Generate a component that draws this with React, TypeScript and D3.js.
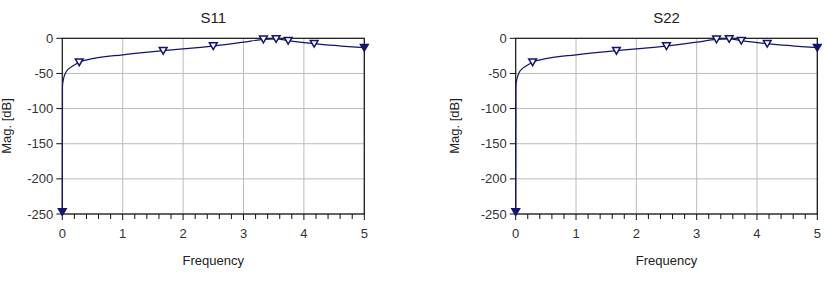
import React from "react";
import * as d3 from "d3";

const titles = ["S11", "S22"];
const freq = [0, 0.003, 0.02, 0.05, 0.1, 0.18, 0.28, 0.5, 1.0, 1.67, 2.1, 2.5, 3.0, 3.33, 3.54, 3.74, 4.17, 5];
const mag = [-247, -68, -58, -50, -44, -39, -34, -29, -23.5, -17.6, -14.3, -11, -5.5, -1.5, -0.8, -3.3, -7.6, -13.3];
const markerIdx = [0, 6, 9, 11, 13, 14, 15, 16, 17];
const xTicks = [0, 1, 2, 3, 4, 5];
const yTicks = [0, -50, -100, -150, -200, -250];
const xLabel = "Frequency";
const yLabel = "Mag. [dB]";

const W = 826, H = 282;
const panels = [{ x0: 62.3, x1: 364.3, yl: 11 }, { x0: 515.7, x1: 817.3, yl: 459 }];
const yTop = 38.3, yBot = 214;
const navy = "#14146e";
const font = "'Liberation Sans', Arial, sans-serif";

function Panel({ idx }: { idx: number }) {
  const p = panels[idx];
  const x = d3.scaleLinear().domain([0, 5]).range([p.x0, p.x1]);
  const y = d3.scaleLinear().domain([-250, 0]).range([yBot, yTop]);
  const line = d3.line<number>().x((_, i) => x(freq[i])).y((d) => y(d)).curve(d3.curveMonotoneX);
  const minor = d3.range(0, 5.0001, 0.2);
  const tri = d3.symbol().type(d3.symbolTriangle).size(26)();
  const cx = (p.x0 + p.x1) / 2;
  return (
    <g>
      <text x={cx} y={23} textAnchor="middle" fontSize={15} fill="#222" fontFamily={font}>{titles[idx]}</text>
      {xTicks.slice(1).map((t) => (
        <line key={"gx" + t} x1={x(t)} x2={x(t)} y1={yTop} y2={yBot} stroke="#bbb" strokeWidth={1} />
      ))}
      {yTicks.slice(1).map((t) => (
        <line key={"gy" + t} x1={p.x0} x2={p.x1} y1={y(t)} y2={y(t)} stroke="#bbb" strokeWidth={1} />
      ))}
      <rect x={p.x0} y={yTop} width={p.x1 - p.x0} height={yBot - yTop} fill="none" stroke="#111" strokeWidth={1.2} />
      {minor.map((t, i) => (
        <line key={"mt" + i} x1={x(t)} x2={x(t)} y1={yBot} y2={yBot + (i % 5 === 0 ? 6 : 5)} stroke="#111" strokeWidth={1} />
      ))}
      {yTicks.map((t) => (
        <g key={"yt" + t}>
          <line x1={p.x0 - 6} x2={p.x0} y1={y(t)} y2={y(t)} stroke="#111" strokeWidth={1} />
          <text x={p.x0 - 9} y={y(t) + 4.5} textAnchor="end" fontSize={13} fill="#333" fontFamily={font}>{t}</text>
        </g>
      ))}
      {xTicks.map((t) => (
        <text key={"xt" + t} x={x(t)} y={238} textAnchor="middle" fontSize={13} fill="#333" fontFamily={font}>{t}</text>
      ))}
      <text x={cx} y={265} textAnchor="middle" fontSize={13} fill="#222" fontFamily={font}>{xLabel}</text>
      <text transform={`translate(${p.yl},${126}) rotate(-90)`} textAnchor="middle" fontSize={13} fill="#222" fontFamily={font}>{yLabel}</text>
      <path d={line(mag) || ""} fill="none" stroke={navy} strokeWidth={1.2} />
      {markerIdx.map((i) => (
        <path key={"m" + i} d={tri || ""} transform={`translate(${x(freq[i])},${y(mag[i]) - 1}) rotate(180)`}
          fill={i === 0 || i === 17 ? navy : "#fff"} stroke={navy} strokeWidth={1.5} />
      ))}
    </g>
  );
}

export default function App() {
  return (
    <svg width={W} height={H} style={{ position: "absolute", left: 0, top: 0, background: "#fff" }}>
      <rect width={W} height={H} fill="#fff" />
      <Panel idx={0} />
      <Panel idx={1} />
    </svg>
  );
}
